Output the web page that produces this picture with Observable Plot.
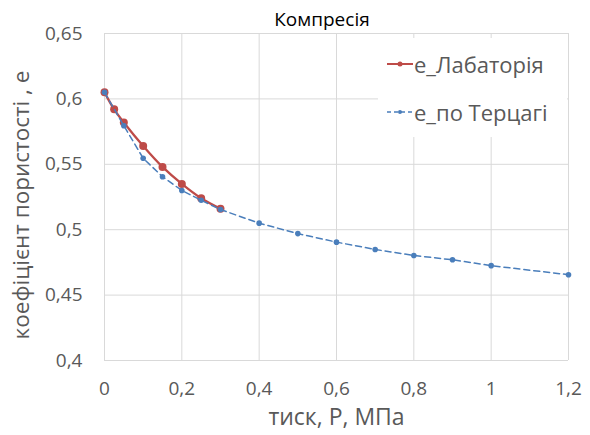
<!DOCTYPE html>
<html>
<head>
<meta charset="utf-8">
<script src="https://cdn.jsdelivr.net/npm/d3@7"></script>
<script src="https://cdn.jsdelivr.net/npm/@observablehq/plot@0.6"></script>
<style>
  body { margin: 0; background: #fff; }
  #wrap { position: relative; width: 590px; height: 435px; font-family: "Open Sans", sans-serif; }
  #title { position: absolute; left: 0; width: 644px; top: 6px; line-height: 26px; text-align: center; font-size: 19px; color: #000; }
  #legend { position: absolute; left: 378px; top: 38px; width: 189px; height: 99px; background: #fff; color: #595959; font-size: 22px; }
  .row { position: absolute; left: 9px; display: flex; align-items: center; }
  .row svg { margin-right: 1px; }
</style>
</head>
<body>
<div id="wrap">
  <div id="chart"></div>
  <div id="title">Компресія</div>
  <div id="legend"></div>
</div>
<script>
const title = "Компресія";
const xLabel = "тиск, Р, МПа";
const yLabel = "коефіцієнт пористості , е";
const seriesNames = ["е_Лабаторія", "е_по Терцагі"];
const seriesColors = ["#BE4B48", "#4A7EBB"];

const pLab = [0, 0.025, 0.05, 0.1, 0.15, 0.2, 0.25, 0.3];
const eLab = [0.605, 0.592, 0.582, 0.564, 0.548, 0.535, 0.524, 0.516];

const pTer = [0, 0.05, 0.1, 0.15, 0.2, 0.25, 0.3, 0.4, 0.5, 0.6, 0.7, 0.8, 0.9, 1.0, 1.2];
const eTer = [0.605, 0.5795, 0.5546, 0.5405, 0.530, 0.5225, 0.5154, 0.505, 0.497, 0.4905, 0.4849, 0.4803, 0.477, 0.4725, 0.4656];

const xTicks = [0, 0.2, 0.4, 0.6, 0.8, 1, 1.2];
const yTicks = [0.4, 0.45, 0.5, 0.55, 0.6, 0.65];

const lab = pLab.map((p, i) => ({p, e: eLab[i]}));
const ter = pTer.map((p, i) => ({p, e: eTer[i]}));
const fmt = d => String(d).replace(".", ",");

const chart = Plot.plot({
  width: 590,
  height: 435,
  marginLeft: 104,
  marginRight: 22,
  marginTop: 33,
  marginBottom: 75,
  style: {fontFamily: "Open Sans, sans-serif", fontSize: "19px", color: "#595959", background: "#fff"},
  x: {domain: [0, 1.2]},
  y: {domain: [0.4, 0.65]},
  marks: [
    Plot.gridX(xTicks, {stroke: "#d9d9d9", strokeOpacity: 1}),
    Plot.gridY(yTicks, {stroke: "#d9d9d9", strokeOpacity: 1}),
    Plot.axisX(xTicks, {tickSize: 0, tickPadding: 21, tickFormat: fmt, fontSize: 19, label: xLabel, labelAnchor: "center", labelArrow: "none", labelOffset: 64}),
    Plot.axisY(yTicks, {tickSize: 0, tickPadding: 22, tickFormat: fmt, fontSize: 19, label: yLabel, labelAnchor: "center", labelArrow: "none", labelOffset: 91}),
    Plot.line(lab, {x: "p", y: "e", stroke: seriesColors[0], strokeWidth: 2.25, curve: "catmull-rom"}),
    Plot.dot(lab, {x: "p", y: "e", fill: seriesColors[0], r: 4}),
    Plot.line(ter, {x: "p", y: "e", stroke: seriesColors[1], strokeWidth: 1.5, strokeDasharray: "6,4"}),
    Plot.dot(ter, {x: "p", y: "e", fill: seriesColors[1], r: 2.8})
  ]
});
chart.querySelector('[aria-label="x-axis label"] text')?.setAttribute("font-size", "23");
const yl = chart.querySelector('[aria-label="y-axis label"]');
if (yl) {
  yl.querySelector("text")?.setAttribute("font-size", "22.5");
  yl.setAttribute("transform", "translate(0,8) " + (yl.getAttribute("transform") || ""));
}
document.getElementById("chart").appendChild(chart);

const legend = document.getElementById("legend");
const tops = [11, 59];
seriesNames.forEach((name, i) => {
  const row = document.createElement("div");
  row.className = "row";
  row.style.top = tops[i] + "px";
  const dash = i === 1 ? 'stroke-dasharray="4,3"' : '';
  const sw = i === 0 ? 2 : 1.5;
  const r = i === 0 ? 2.5 : 2;
  row.innerHTML = `<svg width="26" height="28"><line x1="0" y1="14" x2="26" y2="14" stroke="${seriesColors[i]}" stroke-width="${sw}" ${dash}/><circle cx="13" cy="14" r="${r}" fill="${seriesColors[i]}"/></svg><span>${name}</span>`;
  legend.appendChild(row);
});
</script>
</body>
</html>
